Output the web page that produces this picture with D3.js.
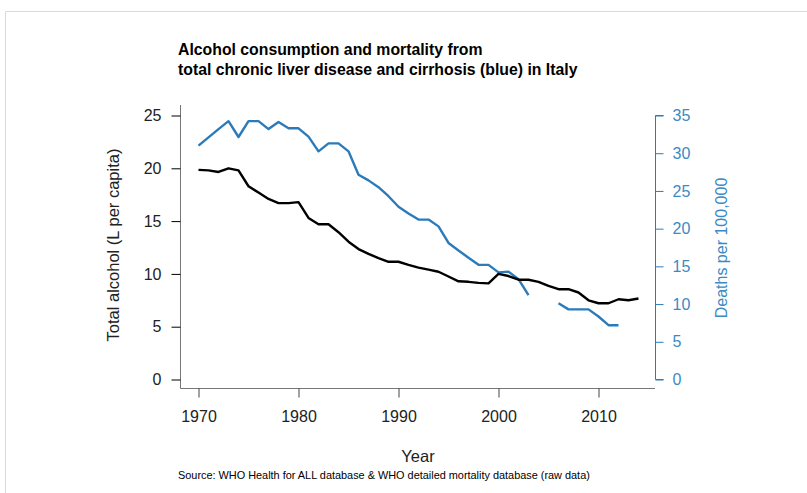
<!DOCTYPE html>
<html><head><meta charset="utf-8">
<script src="https://cdn.jsdelivr.net/npm/d3@7"></script>
<style>
html,body{margin:0;padding:0;background:#fff;}
svg{display:block;font-family:"Liberation Sans",Arial,sans-serif;}
</style></head>
<body>
<svg id="chart" width="807" height="493"></svg>
<script>
const years = d3.range(1970, 2015);
const alcohol = [19.85,19.8,19.65,20.0,19.8,18.3,17.7,17.1,16.7,16.7,16.8,15.3,14.7,14.7,13.95,13.05,12.35,11.9,11.5,11.15,11.15,10.85,10.6,10.4,10.2,9.75,9.3,9.25,9.15,9.1,10.0,9.8,9.45,9.45,9.25,8.87,8.55,8.55,8.24,7.5,7.22,7.22,7.6,7.5,7.67];
const mortality = [31.0,32.1,33.2,34.25,32.15,34.25,34.25,33.2,34.15,33.3,33.3,32.2,30.25,31.3,31.3,30.25,27.15,26.4,25.5,24.3,22.9,22.0,21.2,21.2,20.3,18.1,17.1,16.15,15.2,15.2,14.2,14.3,13.3,11.2,null,null,10.1,9.3,9.3,9.3,8.35,7.2,7.2,null,null];
const leftTicks = [0,5,10,15,20,25];
const rightTicks = [0,5,10,15,20,25,30,35];
const xTicks = [1970,1980,1990,2000,2010];
const titleLines = ["Alcohol consumption and mortality from","total chronic liver disease and cirrhosis (blue) in Italy"];

const svg = d3.select("#chart");
const blue = "#2b7bba", blueText = "#3b8ac4";
const FF = "Liberation Sans, Arial, sans-serif";

// frame border
svg.append("path").attr("d","M5.5,493 L5.5,11.5 L807,11.5").attr("fill","none").attr("stroke","#d9d9d9");

const x = d3.scaleLinear().domain([1970,2010]).range([198.5,598.5]);
const yL = d3.scaleLinear().domain([0,25]).range([379.5,115.5]);
const yR = d3.scaleLinear().domain([0,35]).range([379.5,115.5]);

// L-shaped box
svg.append("path").attr("d","M180.5,105 L180.5,388.5 L655,388.5").attr("fill","none").attr("stroke","#777").attr("stroke-width",1);

// left axis
const gl = svg.append("g").attr("transform","translate(180.5,0)")
  .call(d3.axisLeft(yL).tickValues(leftTicks).tickSize(9).tickPadding(10).tickFormat(d3.format("d")));
gl.select(".domain").remove();
gl.selectAll("line").attr("stroke","#000");
gl.selectAll("text").attr("font-size",16).attr("fill","#222").attr("font-family",FF);

// bottom axis
const gb = svg.append("g").attr("transform","translate(0,388.5)")
  .call(d3.axisBottom(x).tickValues(xTicks).tickSize(9).tickPadding(13).tickFormat(d3.format("d")));
gb.select(".domain").remove();
gb.selectAll("line").attr("stroke","#444");
gb.selectAll("text").attr("font-size",16).attr("fill","#222").attr("font-family",FF);

// right axis
const gr = svg.append("g").attr("transform","translate(655.5,0)")
  .call(d3.axisRight(yR).tickValues(rightTicks).tickSize(8).tickPadding(9).tickFormat(d3.format("d")));
gr.select(".domain").attr("stroke",blue).attr("d","M8,115.5H0V379.5H8");
gr.selectAll("line").attr("stroke",blue);
gr.selectAll("text").attr("font-size",16).attr("fill",blueText).attr("font-family",FF);

// lines
const lineL = d3.line().x((d,i)=>x(years[i])).y(d=>yL(d));
const lineR = d3.line().defined(d=>d!==null).x((d,i)=>x(years[i])).y(d=>yR(d));
svg.append("path").datum(mortality).attr("d",lineR).attr("fill","none").attr("stroke",blue).attr("stroke-width",2.4).attr("stroke-linejoin","round");
svg.append("path").datum(alcohol).attr("d",lineL).attr("fill","none").attr("stroke","#000").attr("stroke-width",2.4).attr("stroke-linejoin","round");

// title
svg.append("g").selectAll("text").data(titleLines).join("text")
  .attr("x",178).attr("y",(d,i)=>55+i*20).attr("font-size",15.8).attr("font-weight","bold").attr("fill","#000")
  .text(d=>d);

// axis labels
svg.append("text").attr("transform","translate(119,245) rotate(-90)").attr("text-anchor","middle")
  .attr("font-size",16.5).attr("fill","#222").text("Total alcohol (L per capita)");
svg.append("text").attr("transform","translate(727,248) rotate(-90)").attr("text-anchor","middle")
  .attr("font-size",16).attr("fill",blueText).text("Deaths per 100,000");
svg.append("text").attr("x",418).attr("y",462).attr("text-anchor","middle")
  .attr("font-size",16.5).attr("fill","#222").text("Year");
svg.append("text").attr("x",178).attr("y",479).attr("font-size",10.9).attr("fill","#000")
  .text("Source: WHO Health for ALL database & WHO detailed mortality database (raw data)");
</script>
</body></html>
